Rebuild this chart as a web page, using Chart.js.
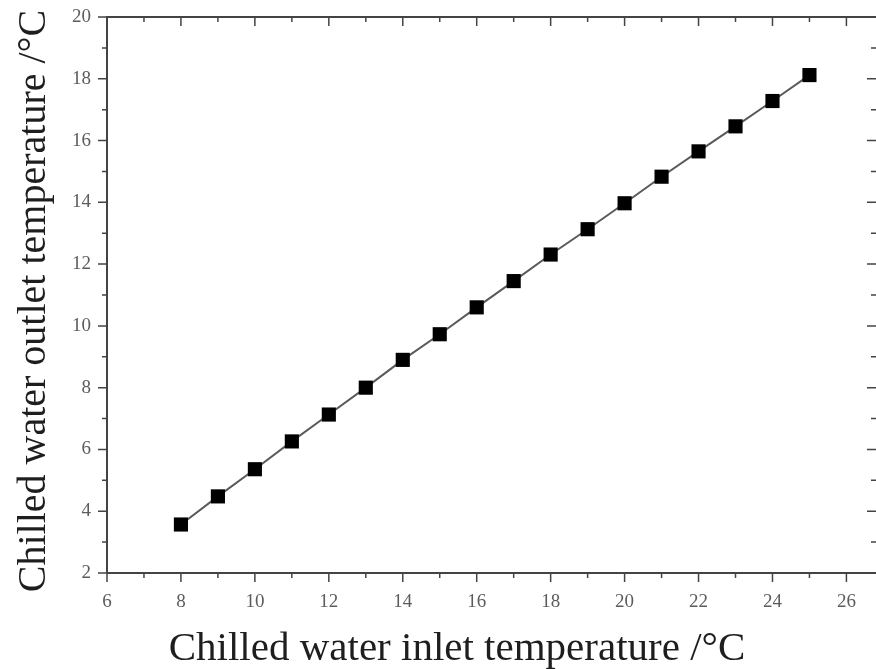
<!DOCTYPE html>
<html>
<head>
<meta charset="utf-8">
<script src="https://cdn.jsdelivr.net/npm/chart.js@4.4.1/dist/chart.umd.min.js"></script>
<style>
  html, body { margin: 0; padding: 0; background: #fff; }
  #wrap { width: 876px; height: 669px; }
</style>
</head>
<body>
<div id="wrap"><canvas id="chart" width="876" height="669"></canvas></div>
<script>
// --- DATA ---
const inletTemps = [8, 9, 10, 11, 12, 13, 14, 15, 16, 17, 18, 19, 20, 21, 22, 23, 24, 25];
const outletTemps = [3.57, 4.48, 5.36, 6.26, 7.13, 8.0, 8.9, 9.73, 10.6, 11.45, 12.31, 13.13, 13.97, 14.83, 15.65, 16.46, 17.28, 18.12];
const xTickValues = [6, 7, 8, 9, 10, 11, 12, 13, 14, 15, 16, 17, 18, 19, 20, 21, 22, 23, 24, 25, 26];
const xRange = [6, 26.8];
const yRange = [2, 20];
const xTitle = 'Chilled water inlet temperature /°C';
const yTitle = 'Chilled water outlet temperature /°C';

const axisColor = '#444';
const labelColor = '#5c5c5c';
const titleColor = '#1e1e1e';
const serif = "'Liberation Serif', 'DejaVu Serif', serif";

// frame + ticks on all four sides: outward on bottom/left, inward on top/right
const frameTicks = {
    id: 'frameTicks',
    afterDraw(chart) {
        const ctx = chart.ctx;
        const area = chart.chartArea;
        const xs = chart.scales.x, ys = chart.scales.y;
        ctx.save();
        ctx.strokeStyle = axisColor;
        ctx.lineWidth = 2;
        ctx.beginPath();
        ctx.moveTo(area.left, area.top);
        ctx.lineTo(area.right, area.top);
        ctx.stroke();

        ctx.lineWidth = 1.5;
        ctx.beginPath();
        xs.ticks.filter(t => Number.isInteger(t.value)).forEach(t => {
            const px = xs.getPixelForValue(t.value);
            const len = t.value % 2 === 0 ? 9 : 5;
            ctx.moveTo(px, area.bottom);
            ctx.lineTo(px, area.bottom + len);
            ctx.moveTo(px, area.top);
            ctx.lineTo(px, area.top + len);
        });
        ys.ticks.forEach(t => {
            const py = ys.getPixelForValue(t.value);
            const len = t.value % 2 === 0 ? 9 : 5;
            ctx.moveTo(area.left, py);
            ctx.lineTo(area.left - len, py);
            ctx.moveTo(area.right, py);
            ctx.lineTo(area.right - len, py);
        });
        ctx.stroke();

        // axis titles, placed where the original has them (not centred on the plot)
        ctx.fillStyle = titleColor;
        ctx.textAlign = 'center';
        ctx.textBaseline = 'alphabetic';
        ctx.font = '41px ' + serif;
        ctx.fillText(xTitle, 457, 660);

        ctx.font = '40px ' + serif;
        ctx.translate(45, 301);
        ctx.rotate(-Math.PI / 2);
        ctx.fillText(yTitle, 0, 0);
        ctx.restore();
    }
};

// invisible tick marks only used to push labels away from the axis
const hiddenGrid = (len) => ({
    display: true,
    drawOnChartArea: false,
    drawTicks: true,
    tickLength: len,
    tickColor: 'rgba(0,0,0,0)',
    color: 'rgba(0,0,0,0)'
});

new Chart(document.getElementById('chart'), {
    type: 'scatter',
    data: {
        datasets: [{
            data: inletTemps.map((x, i) => ({ x: x, y: outletTemps[i] })),
            showLine: true,
            borderColor: '#5a5a5a',
            borderWidth: 2,
            backgroundColor: '#000',
            pointBackgroundColor: '#000',
            pointBorderColor: '#000',
            pointStyle: 'rect',
            pointRadius: 10,
            pointBorderWidth: 0
        }]
    },
    options: {
        responsive: false,
        animation: false,
        layout: { autoPadding: false, padding: { top: 17, right: 0, left: 0, bottom: 0 } },
        plugins: { legend: { display: false }, tooltip: { enabled: false } },
        scales: {
            x: {
                type: 'linear',
                min: xRange[0],
                max: xRange[1],
                afterBuildTicks(scale) {
                    // integer ticks plus an unlabeled one at the cut-off right edge
                    scale.ticks = xTickValues.map(v => ({ value: v })).concat([{ value: xRange[1] }]);
                },
                afterFit(scale) { scale.height = 96; },
                grid: hiddenGrid(18),
                border: { display: true, color: axisColor, width: 2 },
                ticks: {
                    autoSkip: false,
                    maxRotation: 0,
                    padding: 0,
                    color: labelColor,
                    font: { family: serif, size: 19 },
                    callback: v => (v % 2 === 0 ? v : '')
                },
                title: { display: false }
            },
            y: {
                type: 'linear',
                min: yRange[0],
                max: yRange[1],
                afterFit(scale) { scale.width = 107; },
                grid: hiddenGrid(16),
                border: { display: true, color: axisColor, width: 2 },
                ticks: {
                    stepSize: 1,
                    autoSkip: false,
                    padding: 0,
                    color: labelColor,
                    font: { family: serif, size: 19 },
                    callback: v => (v % 2 === 0 ? v : '')
                },
                title: { display: false }
            }
        }
    },
    plugins: [frameTicks]
});
</script>
</body>
</html>
